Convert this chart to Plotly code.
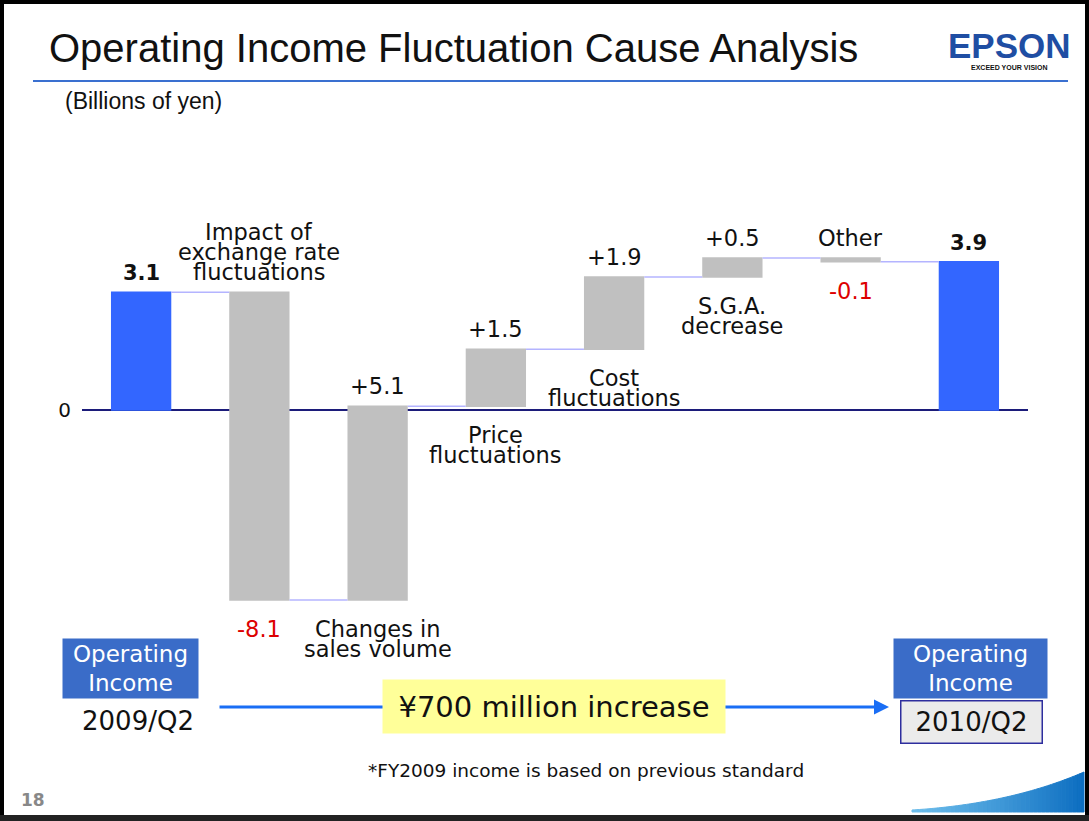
import numpy as np
import plotly.graph_objects as go

# Размер слайда в пикселях
W, H = 1089, 821

# Данные: изменение операционной прибыли (млрд иен)
steps = ['2009/Q2', 'Impact of exchange rate fluctuations', 'Changes in sales volume',
         'Price fluctuations', 'Cost fluctuations', 'S.G.A. decrease', 'Other', '2010/Q2']
values = [3.1, -8.1, 5.1, 1.5, 1.9, 0.5, -0.1, 3.9]
measures = ['absolute', 'relative', 'relative', 'relative', 'relative', 'relative', 'relative', 'total']
value_text = ['3.1', '-8.1', '+5.1', '+1.5', '+1.9', '+0.5', '-0.1', '3.9']
cause_lines = [[], ['Impact of', 'exchange rate', 'fluctuations'], ['Changes in', 'sales volume'],
               ['Price', 'fluctuations'], ['Cost', 'fluctuations'], ['S.G.A.', 'decrease'], ['Other'], []]

BLUE_BAR = '#3366ff'
GRAY_BAR = '#c0c0c0'
BOX_BLUE = '#3a6cc8'
RED = '#dd0000'
LABEL_FONT = 'DejaVu Sans'
TITLE_FONT = 'Liberation Sans'


def px(x):
    return x / W


def py(y):
    return 1 - y / H


# Положение столбцов: верх и низ каждого шага водопада
cum = np.cumsum([v if m != 'total' else 0 for v, m in zip(values, measures)])
tops, bottoms = [], []
for i, (v, m) in enumerate(zip(values, measures)):
    if m == 'relative':
        start = cum[i] - v
        end = cum[i]
    else:
        start, end = 0, (cum[i] if m == 'absolute' else cum[i - 1])
    tops.append(max(start, end))
    bottoms.append(min(start, end))

fig = go.Figure()
fig.add_trace(go.Waterfall(
    x=steps, y=values, measure=measures,
    increasing=dict(marker=dict(color=GRAY_BAR)),
    decreasing=dict(marker=dict(color=GRAY_BAR)),
    totals=dict(marker=dict(color=BLUE_BAR)),
    connector=dict(mode='between', line=dict(color='#b4b4ff', width=1.5)),
    width=0.51, textinfo='none', hoverinfo='skip',
))

annotations = []
GAP_UP, GAP_DOWN, LH = 6, 15, 20


def bar_label(i, lines, where, size=22.5, color='#111', bold=False):
    n = len(lines)
    for k, line in enumerate(lines):
        txt = f'<b>{line}</b>' if bold else line
        if where == 'above':
            ya, yv, shift = 'bottom', tops[i], GAP_UP + (n - 1 - k) * LH
        else:
            ya, yv, shift = 'top', bottoms[i], -(GAP_DOWN + k * LH)
        annotations.append(dict(x=steps[i], y=yv, xref='x', yref='y', text=txt, showarrow=False,
                                yanchor=ya, yshift=shift, borderpad=0,
                                font=dict(family=LABEL_FONT, size=size, color=color)))


for i, v in enumerate(values):
    total = measures[i] != 'relative'
    up = v >= 0
    bar_label(i, [value_text[i]], 'above' if up else 'below',
              size=21 if total else 22.5, color=RED if not up else '#111', bold=total)
    if cause_lines[i]:
        bar_label(i, cause_lines[i], 'below' if up else 'above')


def text_at(x, y, text, size, color='#111', family=LABEL_FONT, xanchor='center', **kw):
    annotations.append(dict(x=px(x), y=py(y), xref='paper', yref='paper', text=text, showarrow=False,
                            xanchor=xanchor, yanchor='middle',
                            font=dict(family=family, size=size, color=color), **kw))


# Заголовок и логотип
text_at(47, 48, 'Operating Income Fluctuation Cause Analysis', 40, family=TITLE_FONT, xanchor='left')
text_at(1009, 45, '<b>EPSON</b>', 35, color='#1f4ea3', family=TITLE_FONT)
text_at(1009, 67, '<b>EXCEED YOUR VISION</b>', 7, color='#111', family=TITLE_FONT)
text_at(63, 101, '(Billions of yen)', 23, family=TITLE_FONT, xanchor='left')

# Стрелка внизу и подписи периодов
annotations.append(dict(x=px(889), y=py(707), xref='paper', yref='paper', text='', showarrow=True,
                        ax=218 - 889, ay=0, arrowhead=2, arrowsize=1, arrowwidth=3, arrowcolor='#1a6ef5'))
text_at(554, 706.5, '¥700 million increase', 29, bgcolor='#ffff99', width=342, height=53, borderpad=0)
text_at(130.5, 668.5, 'Operating<br>Income', 23, color='white', bgcolor=BOX_BLUE, width=135, height=59, borderpad=0)
text_at(970.5, 668.5, 'Operating<br>Income', 23, color='white', bgcolor=BOX_BLUE, width=153, height=59, borderpad=0)
text_at(138, 721, '2009/Q2', 26)
text_at(971.5, 722, '2010/Q2', 26, bgcolor='#ebebeb', bordercolor='#2e2e9e', borderwidth=1.5,
        width=140, height=41, borderpad=0)
text_at(586, 770, '*FY2009 income is based on previous standard', 18.5)
text_at(33, 800, '<b>18</b>', 17, color='#888888')

shapes = []

# Декоративная волна в правом нижнем углу: полосы с переходом цвета
P0, P1, P2 = np.array([1084, 772.0]), np.array([1010, 804.0]), np.array([912, 810.0])
dark, light = np.array([11, 109, 192]), np.array([110, 190, 236])
n_strips = 40
for s in range(n_strips):
    ts = np.linspace(s / n_strips, (s + 1) / n_strips, 3)
    pts = [(1 - t) ** 2 * P0 + 2 * (1 - t) * t * P1 + t ** 2 * P2 for t in ts]
    poly = pts + [np.array([pts[-1][0], 812.0]), np.array([pts[0][0], 812.0])]
    path = 'M ' + ' L '.join(f'{px(a):.5f},{py(b):.5f}' for a, b in poly) + ' Z'
    c = dark + (light - dark) * (s + 0.5) / n_strips
    col = f'rgb({c[0]:.0f},{c[1]:.0f},{c[2]:.0f})'
    shapes.append(dict(type='path', xref='paper', yref='paper', path=path,
                       fillcolor=col, line=dict(width=1, color=col)))

shapes += [
    # рамка слайда
    dict(type='rect', xref='paper', yref='paper', x0=0, y0=0, x1=1, y1=1, line=dict(color='black', width=8)),
    dict(type='line', xref='paper', yref='paper', x0=0, x1=1, y0=py(818), y1=py(818), line=dict(color='#222', width=6)),
    # линия под заголовком
    dict(type='line', xref='paper', yref='paper', x0=px(33), x1=px(1068), y0=py(81), y1=py(81),
         line=dict(color='#3a70d0', width=2)),
]

fig.update_layout(
    width=W, height=H,
    margin=dict(l=0, r=0, t=0, b=0),
    paper_bgcolor='white', plot_bgcolor='white',
    showlegend=False,
    xaxis=dict(domain=[px(82), px(1028)], showticklabels=False, showgrid=False, zeroline=False,
               range=[-0.5, 7.5], fixedrange=True),
    yaxis=dict(domain=[py(640), py(150)], range=[-6.053, 6.842], showgrid=False,
               zeroline=True, zerolinecolor='#1c1c7a', zerolinewidth=2, layer='above traces',
               tickvals=[0], ticktext=['0'], ticks='', ticklabelstandoff=10,
               tickfont=dict(family=LABEL_FONT, size=20, color='#111')),
    annotations=annotations,
    shapes=shapes,
)

# Убираем отступ страницы, чтобы слайд совпал с окном
fig.write_html('out.html', config={'displayModeBar': False},
               post_script="document.body.style.margin='0';document.body.style.overflow='hidden';")
